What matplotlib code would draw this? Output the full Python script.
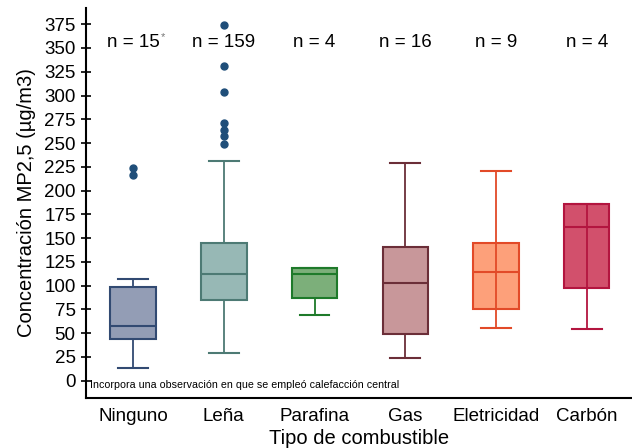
import matplotlib.pyplot as plt
import numpy as np

plt.rcParams['font.family'] = ['Liberation Sans', 'DejaVu Sans']

# datos
categorias = ['Ninguno', 'Leña', 'Parafina', 'Gas', 'Eletricidad', 'Carbón']
n_obs = ['15', '159', '4', '16', '9', '4']
q1 = [44, 85, 87, 49, 75, 98]
mediana = [58, 112, 112, 103, 114, 162]
q3 = [99, 145, 119, 141, 145, 186]
bigote_bajo = [13, 29, 69, 24, 55, 54]
bigote_alto = [107, 231, 119, 229, 221, 186]
atipicos = [[216, 224], [249, 257, 264, 271, 304, 331, 374], [], [], [], []]

relleno = ['#939db5', '#97b8b5', '#7caf7a', '#c8979a', '#fda07a', '#d2506c']
borde = ['#324a72', '#4d7a74', '#1e7a2a', '#6b2e38', '#e24a28', '#b3153f']

fig = plt.figure(figsize=(6.32, 4.48), dpi=100)
ax = fig.add_axes([0.136, 0.112, 0.864, 0.870])

pos = np.arange(1, len(categorias) + 1)
stats = []
for i in range(len(categorias)):
    stats.append(dict(med=mediana[i], q1=q1[i], q3=q3[i],
                      whislo=bigote_bajo[i], whishi=bigote_alto[i],
                      fliers=atipicos[i]))

bp = ax.bxp(stats, positions=pos, widths=0.5, patch_artist=True,
            showfliers=True, capwidths=0.33)

for i in range(len(categorias)):
    bp['boxes'][i].set_facecolor(relleno[i])
    bp['boxes'][i].set_edgecolor(borde[i])
    bp['boxes'][i].set_linewidth(1.5)
    bp['medians'][i].set_color(borde[i])
    bp['medians'][i].set_linewidth(1.5)
    for k in (2 * i, 2 * i + 1):
        bp['whiskers'][k].set_color(borde[i])
        bp['whiskers'][k].set_linewidth(1.3)
        bp['caps'][k].set_color(borde[i])
        bp['caps'][k].set_linewidth(1.5)
    bp['fliers'][i].set_marker('o')
    bp['fliers'][i].set_markerfacecolor('#1f4e79')
    bp['fliers'][i].set_markeredgecolor('#1f4e79')
    bp['fliers'][i].set_markersize(5)

# en Eletricidad y Carbón el bigote atraviesa la caja
for i in (4, 5):
    ax.plot([pos[i], pos[i]], [q1[i], q3[i]], color=borde[i], lw=1.3, zorder=3)

# n por grupo
for i in range(len(categorias)):
    t = ax.text(pos[i], 356, 'n = ' + n_obs[i], ha='center', va='center', fontsize=13.5)
    if i == 0:
        ax.annotate('*', xy=(1, 1), xycoords=t, xytext=(1, 1), textcoords='offset points',
                    ha='left', va='top', fontsize=8, color='#777777')

ax.text(0.52, -5, 'Incorpora una observación en que se empleó calefacción central',
        fontsize=7.7, ha='left', va='center')

ax.set_xlim(0.48, 6.5)
ax.set_ylim(-18, 392)
ax.set_yticks(np.arange(0, 376, 25))
ax.set_xticks(pos)
ax.set_xticklabels(categorias, fontsize=13.5)
ax.tick_params(axis='y', direction='inout', length=7, width=1.2, labelsize=13.5, pad=4)
ax.tick_params(axis='x', length=0, pad=7)
ax.set_ylabel('Concentración MP2,5 (µg/m3)', fontsize=14.5, labelpad=6)
ax.set_xlabel('Tipo de combustible', fontsize=14.5, labelpad=3)

ax.spines['top'].set_visible(False)
ax.spines['right'].set_visible(False)
ax.spines['left'].set_linewidth(1.5)
ax.spines['bottom'].set_linewidth(1.5)

plt.savefig('out.png', dpi=100)
